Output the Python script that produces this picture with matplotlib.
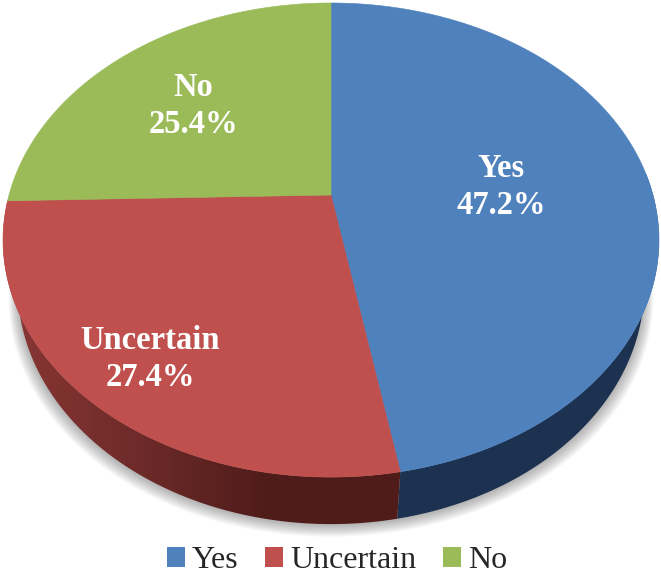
import matplotlib as mpl; mpl.use('Agg')
import matplotlib.pyplot as plt
import numpy as np
from matplotlib.colors import LinearSegmentedColormap
from matplotlib.patches import Polygon

categories = ['Yes', 'Uncertain', 'No']
percents = [47.2, 27.4, 25.4]
colors = ['#4f81bd', '#c0504d', '#9bbb59']
label_pos = [(501, 187), (150, 359), (193, 106)]

# pie centre, radius and tilt in pixels of the picture
cx, cy = 331, 195
a, b, k = 322, 228.5, 0.19
depth = 47
shrink = 0.955

def top_xy(theta):
    t = np.radians(theta)
    d = 1 + k * np.sin(t)
    return cx + a * np.cos(t) / d, cy - b * np.sin(t) / d

def bottom_xy(theta):
    x, y = top_xy(theta)
    return cx + shrink * (x - cx), y + depth

fig = plt.figure(figsize=(6.61, 5.76), dpi=100)
ax = fig.add_axes([0, 0, 1, 1])

wedges, _ = ax.pie(percents, colors=colors, startangle=90, counterclock=False, labels=None)
for w in wedges:
    w.set_visible(False)
ax.set_aspect('auto')

#soft shadow under the pie
all_t = np.linspace(0, 360, 361)
for i in range(14):
    sx, sy = bottom_xy(all_t)
    sx = cx + (sx - cx) * (1.0 + i * 0.0022)
    sy = sy + 1 + i * 0.9
    ax.add_patch(Polygon(np.c_[sx, sy], fc='#404040', ec='none', alpha=0.03, zorder=1))

#side wall, only the front part can be seen
side_cmaps = [
    LinearSegmentedColormap.from_list('blue_side', ['#1c3250', '#1c3250']),
    LinearSegmentedColormap.from_list('red_side', ['#8a3735', '#6e2b29', '#4f1c1a', '#4f1c1a']),
]
for w, cm in zip(wedges[:2], side_cmaps):
    t = np.linspace(w.theta1, w.theta2, 200)
    t = t[np.sin(np.radians(t)) < 0.1]
    x1, y1 = top_xy(t)
    x2, y2 = bottom_xy(t)
    poly = Polygon(np.r_[np.c_[x1, y1], np.c_[x2, y2][::-1]], fc='none', ec='none', zorder=2)
    ax.add_patch(poly)
    grad = np.linspace(0, 1, 256).reshape(1, -1)
    im = ax.imshow(grad, cmap=cm, extent=(min(x1.min(), x2.min()), max(x1.max(), x2.max()), 576, 0),
                   aspect='auto', zorder=2)
    im.set_clip_path(poly)
ax.set_xlim(0, 661)
ax.set_ylim(576, 0)

#top face
for w, c in zip(wedges, colors):
    t = np.linspace(w.theta1, w.theta2, 300)
    x, y = top_xy(t)
    ax.add_patch(Polygon(np.r_[[[cx, cy]], np.c_[x, y]], fc=c, ec=c, lw=0.4, zorder=3))

for name, p, (lx, ly) in zip(categories, percents, label_pos):
    ax.text(lx, ly, f'{name}\n{p}%', color='white', ha='center', va='center', zorder=4,
            family='Liberation Serif', fontweight='bold', fontsize=23.5, linespacing=1.22)

handles = [plt.Rectangle((0, 0), 1, 1, fc=c, ec='none') for c in colors]
ax.legend(handles, categories, ncols=3, loc='center', bbox_to_anchor=(337 / 661, 1 - 561 / 576),
          frameon=False, prop={'family': 'Liberation Serif', 'size': 23},
          labelcolor='#262626', handlelength=0.56, handleheight=0.56, handletextpad=0.21,
          columnspacing=0.85, borderpad=0, borderaxespad=0)

plt.savefig('out.png', dpi=100)
